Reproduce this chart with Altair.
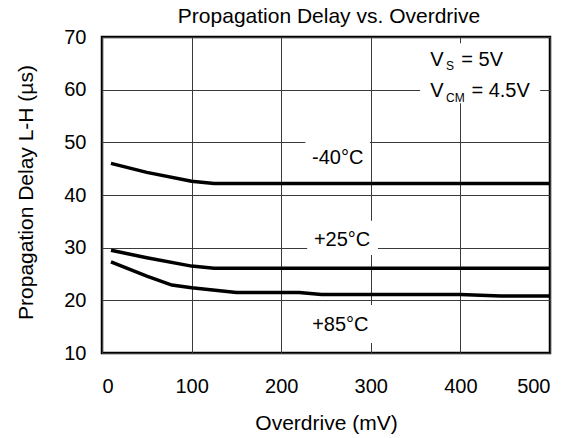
import altair as alt
import pandas as pd

FONT = "Liberation Sans"

chart_title = ["Propagation Delay vs. Overdrive"]

# Curves: overdrive (mV) vs propagation delay (µs)
overdrive_m40 = [10, 50, 100, 125, 500]
delay_m40 = [46.0, 44.3, 42.6, 42.2, 42.2]
overdrive_p25 = [10, 50, 100, 125, 500]
delay_p25 = [29.5, 28.1, 26.5, 26.1, 26.1]
overdrive_p85 = [10, 50, 78, 100, 150, 220, 245, 400, 445, 500]
delay_p85 = [27.3, 24.6, 22.9, 22.4, 21.5, 21.5, 21.1, 21.1, 20.8, 20.8]

# Temperature labels (data coordinates) with white backing boxes
temp_labels = ["-40°C", "+25°C", "+85°C"]
temp_label_x = [263, 268, 266]
temp_label_y = [47.0, 31.4, 15.3]
box_x1 = [227, 229, 227, 355]
box_x2 = [299, 308, 305, 489]
box_y1 = [44.3, 28.6, 11.9, 57.4]
box_y2 = [51.0, 35.1, 19.1, 68.8]

# Condition annotation pieces (V_S = 5V, V_CM = 4.5V)
cond_text = ["V", "S", "= 5V", "V", "CM", "= 4.5V"]
cond_x = [366.3, 384.0, 401.0, 366.3, 384.0, 412.3]
cond_y = [65.7, 64.4, 65.7, 59.7, 58.4, 59.7]
cond_size = [20, 12, 20, 20, 12, 20]

x_ticks = [0, 100, 200, 300, 400, 500]
y_ticks = [10, 20, 30, 40, 50, 60, 70]

rows = []
for name, xs, ys in [("m40", overdrive_m40, delay_m40),
                     ("p25", overdrive_p25, delay_p25),
                     ("p85", overdrive_p85, delay_p85)]:
    for xv, yv in zip(xs, ys):
        rows.append({"series": name, "x": xv, "y": yv})
curves = pd.DataFrame(rows)

boxes = pd.DataFrame({"x1": box_x1, "x2": box_x2, "y1": box_y1, "y2": box_y2})
labels = pd.DataFrame({"t": temp_labels, "x": temp_label_x, "y": temp_label_y})
cond = pd.DataFrame({"t": cond_text, "x": cond_x, "y": cond_y, "s": cond_size})
title_df = pd.DataFrame({"t": chart_title})

xscale = alt.Scale(domain=[0, 500], nice=False)
yscale = alt.Scale(domain=[10, 70], nice=False)

xaxis = alt.Axis(values=x_ticks, title="Overdrive (mV)", grid=True, ticks=False,
                 domain=False, labelPadding=23, titleY=76,
                 titleBaseline="alphabetic")
yaxis = alt.Axis(values=y_ticks, title="Propagation Delay L-H (µs)", grid=True,
                 ticks=False, domain=False, labelPadding=16, titleX=-70,
                 titleY=155, titleBaseline="alphabetic", titleAngle=-90)

base_lines = alt.Chart(curves).mark_line(color="black", strokeWidth=3.5).encode(
    x=alt.X("x:Q", scale=xscale, axis=xaxis),
    y=alt.Y("y:Q", scale=yscale, axis=yaxis),
    detail="series:N",
)

rects = alt.Chart(boxes).mark_rect(fill="white").encode(
    x=alt.X("x1:Q", scale=xscale), x2="x2:Q",
    y=alt.Y("y1:Q", scale=yscale), y2="y2:Q",
)

temp_text = alt.Chart(labels).mark_text(font=FONT, fontSize=20, color="black",
                                        align="center", baseline="middle").encode(
    x=alt.X("x:Q", scale=xscale), y=alt.Y("y:Q", scale=yscale), text="t:N"
)

cond_marks = alt.Chart(cond).mark_text(font=FONT, color="black", align="left",
                                       baseline="middle").encode(
    x=alt.X("x:Q", scale=xscale), y=alt.Y("y:Q", scale=yscale), text="t:N",
    size=alt.Size("s:Q", scale=None, legend=None),
)

title_mark = alt.Chart(title_df).mark_text(font=FONT, fontSize=21, color="black",
                                           align="center", baseline="alphabetic").encode(
    text="t:N", x=alt.value(227), y=alt.value(-14)
)

chart = alt.layer(rects, base_lines, temp_text, cond_marks, title_mark).properties(
    width=448, height=316,
    autosize=alt.AutoSizeParams(type="none"),
    padding={"left": 94, "top": 29, "right": 18, "bottom": 85},
).configure_view(
    stroke="black", strokeWidth=2.5
).configure_axis(
    labelFont=FONT, labelFontSize=20, labelColor="black",
    titleFont=FONT, titleFontSize=21, titleFontWeight="normal", titleColor="black",
    gridColor="#3a3a3a", gridWidth=1, gridOpacity=1,
).configure_text(font=FONT)

chart.save("out.html", embed_options={"renderer": "svg", "actions": False})
